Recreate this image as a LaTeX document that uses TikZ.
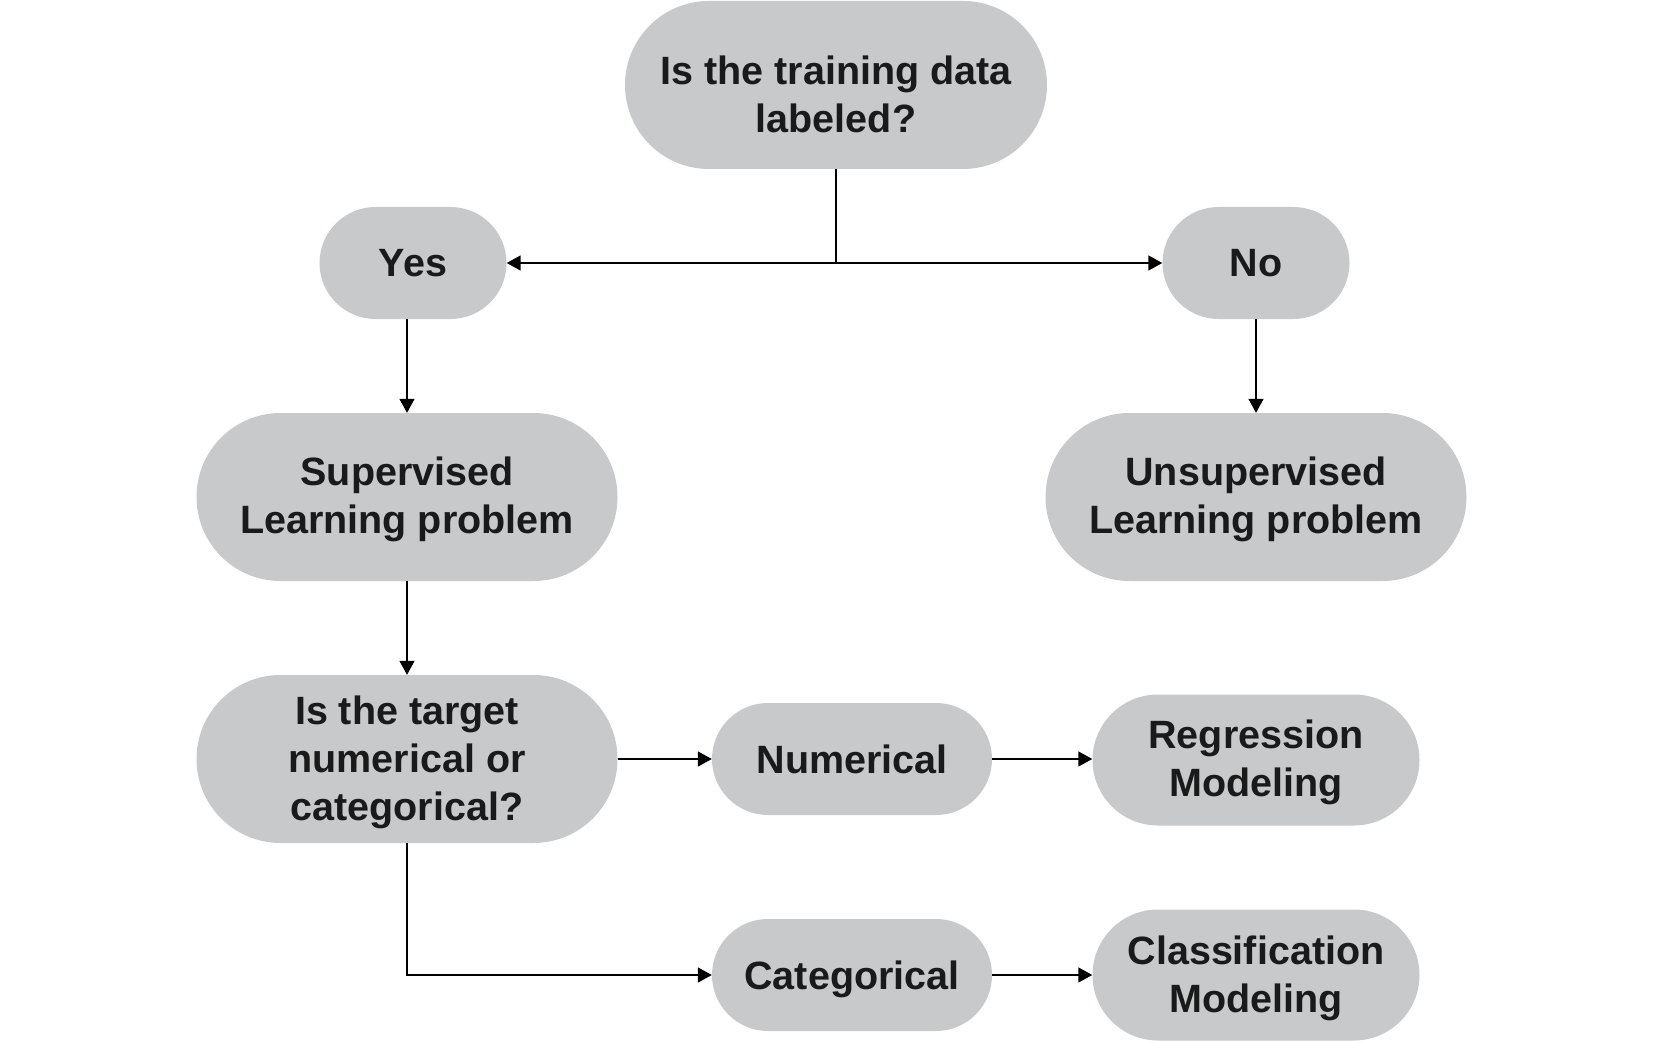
\documentclass[tikz,border=0pt]{standalone}
\usepackage{fontspec}
\setmainfont{Liberation Sans}
\usetikzlibrary{arrows.meta}
\definecolor{boxfill}{HTML}{C8C9CB}
\definecolor{txt}{HTML}{1A1A1A}
\newcommand{\upstrut}[1]{\rule{0pt}{#1pt}}
\tikzset{
  pill/.style args={#1/#2}{draw=none, fill=boxfill, text=txt, align=center,
    minimum width=#1pt, minimum height=#2pt, inner sep=0pt,
    rounded corners={#2pt/2},
    font=\fontsize{39.5}{48}\selectfont\bfseries},
  conn/.style={line width=1.5pt, draw=black},
  arr/.style={conn, -{Triangle[length=14pt,width=15pt]}}
}
\begin{document}
\begin{tikzpicture}[x=1pt,y=-1pt]
\useasboundingbox (0,0) rectangle (1665,1043);
\node[pill=422/168] (top) at (836,85) {\upstrut{47}Is the training data\\labeled?};
\node[pill=187/112] (yes) at (413,263) {Yes};
\node[pill=187/112] (no) at (1256,263) {No};
\node[pill=421/168] (sup) at (407,497) {\upstrut{34}Supervised\\Learning problem};
\node[pill=421/168] (unsup) at (1256,497) {\upstrut{34}Unsupervised\\Learning problem};
\node[pill=421/168] (target) at (407,759) {\upstrut{35}Is the target\\numerical or\\categorical?};
\node[pill=280/112] (num) at (852,759) {Numerical};
\node[pill=280/112, text depth=0pt] (cat) at (852,975) {Categorical};
\node[pill=327/131] (reg) at (1256,760) {\upstrut{34}Regression\\Modeling};
\node[pill=327/131] (cls) at (1256,975) {\upstrut{35}Classification\\Modeling};
\coordinate (jn) at (top.south |- yes.east);
\draw[conn] (top.south) -- (jn);
\draw[arr] (jn) -- (yes.east);
\draw[arr] (jn) -- (no.west);
\draw[arr] (sup.north |- yes.south) -- (sup.north);
\draw[arr] (no.south) -- (unsup.north);
\draw[arr] (sup.south) -- (target.north);
\draw[arr] (target.east) -- (num.west);
\draw[arr] (num.east) -- (reg.west |- num.east);
\draw[arr] (target.south) -- (target.south |- cat.west) -- (cat.west);
\draw[arr] (cat.east) -- (cls.west);
\end{tikzpicture}
\end{document}
